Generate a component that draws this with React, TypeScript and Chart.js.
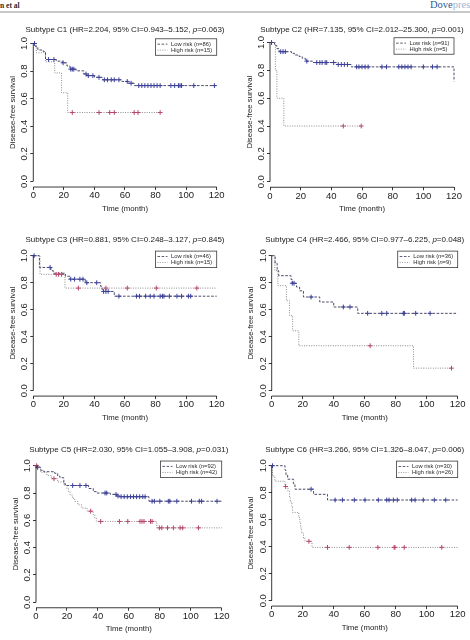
import React, { useEffect, useRef } from 'react';
import { Chart, registerables } from 'chart.js';

Chart.register(...registerables);

type Step = [number, number];

const FONT = "'Liberation Sans', Arial, Helvetica, sans-serif";
const SERIF = "'Liberation Serif', 'DejaVu Serif', serif";

// Cox model summary for each subtype
const SUBTYPES = ['C1', 'C2', 'C3', 'C4', 'C5', 'C6'];
const HR = [2.204, 7.135, 0.881, 2.466, 2.03, 3.266];
const CI_LOW = [0.943, 2.012, 0.248, 0.977, 1.055, 1.326];
const CI_HIGH = [5.152, 25.3, 3.127, 6.225, 3.908, 8.047];
const P_VALUE = [0.063, 0.001, 0.845, 0.048, 0.031, 0.006];
const N_LOW = [86, 91, 46, 36, 92, 30];
const N_HIGH = [15, 5, 15, 9, 42, 26];

const X_TICKS = [0, 20, 40, 60, 80, 100, 120];
const Y_TICKS = [0, 0.2, 0.4, 0.6, 0.8, 1.0];

// Kaplan-Meier steps: [month, survival after the event]
const C1_LOW: Step[] = [[0, 1], [1.5, 0.977], [3, 0.953], [6.5, 0.942], [8, 0.884], [15, 0.872], [19, 0.86], [22, 0.837], [24, 0.814], [28, 0.802], [33, 0.779], [35, 0.767], [40, 0.755], [45, 0.737], [58, 0.725], [62, 0.712], [66, 0.695], [120, 0.695]];
const C1_HIGH: Step[] = [[0, 1], [2, 0.933], [8, 0.867], [14, 0.787], [18.5, 0.643], [22.5, 0.5], [83, 0.5]];
const C1_LOW_CENSORED = [0.8, 10, 13.5, 19.5, 24.5, 25.5, 26.5, 34.5, 36, 39, 43, 46.5, 48.5, 51, 53, 56, 61.5, 64, 69, 71, 73, 75, 77, 79, 81, 83, 90, 92.5, 95, 96, 97, 105, 118.5];
const C1_HIGH_CENSORED = [25.5, 43, 50, 53, 66, 68.5, 83];

const C2_LOW: Step[] = [[0, 1], [3, 0.978], [4.5, 0.956], [6, 0.934], [14, 0.922], [16, 0.91], [19, 0.899], [21, 0.887], [23, 0.866], [28, 0.856], [43.5, 0.842], [53, 0.825], [120, 0.72]];
const C2_HIGH: Step[] = [[0, 1], [3.5, 0.8], [4.5, 0.6], [9, 0.4], [59.5, 0.4]];
const C2_LOW_CENSORED = [1, 7, 8.5, 10, 24, 30.5, 32.5, 34, 36, 37, 41.5, 44.5, 46.5, 48.5, 50.5, 56.5, 58, 60, 62, 64, 73, 76, 84, 86, 88, 90, 92, 100, 106, 109];
const C2_HIGH_CENSORED = [47.8, 59.5];

const C3_LOW: Step[] = [[0, 1], [4, 0.913], [11.5, 0.891], [13, 0.87], [21, 0.848], [24, 0.826], [34, 0.8], [44, 0.774], [45, 0.748], [46, 0.735], [53, 0.7], [120, 0.7]];
const C3_HIGH: Step[] = [[0, 1], [4.4, 0.862], [20.7, 0.76], [120, 0.76]];
const C3_LOW_CENSORED = [0.5, 11, 24.5, 27, 30.5, 32.5, 35, 41.5, 46, 47.5, 49, 56, 67.5, 69.5, 73.5, 76.5, 79, 83, 84.5, 85.5, 89, 94, 97, 101.5, 103];
const C3_HIGH_CENSORED = [15, 16.5, 18.5, 29.5, 47.5, 61.5, 80.5, 107];

const C4_LOW: Step[] = [[0, 1], [2.2, 0.944], [3.5, 0.889], [4.5, 0.852], [12.5, 0.824], [13.2, 0.796], [16, 0.768], [18, 0.74], [20.5, 0.694], [31, 0.657], [40, 0.62], [55.5, 0.573], [120, 0.573]];
const C4_HIGH: Step[] = [[0, 1], [2, 0.889], [4, 0.778], [9.5, 0.667], [11.5, 0.556], [13.5, 0.444], [17.5, 0.333], [91.5, 0.167], [116, 0.167]];
const C4_LOW_CENSORED = [13.3, 14.4, 25.4, 46.2, 50.5, 61.9, 71, 74.2, 84.9, 85.6, 92.9, 102.2];
const C4_HIGH_CENSORED = [63.5, 116];

const C5_LOW: Step[] = [[0, 1], [1, 0.989], [3, 0.967], [5, 0.956], [12, 0.945], [14, 0.923], [15.5, 0.912], [18, 0.868], [19, 0.855], [34, 0.833], [37, 0.81], [39, 0.8], [48, 0.79], [52, 0.778], [54, 0.773], [73, 0.74], [120, 0.74]];
const C5_HIGH: Step[] = [[0, 1], [0.5, 0.976], [3, 0.952], [7, 0.929], [10, 0.905], [14, 0.881], [18, 0.857], [20, 0.833], [21, 0.81], [22, 0.786], [23.5, 0.762], [25, 0.738], [27, 0.714], [29.5, 0.69], [33, 0.667], [37, 0.641], [38, 0.616], [39, 0.592], [78, 0.545], [120, 0.545]];
const C5_LOW_CENSORED = [1, 23.7, 28.4, 32.3, 44.6, 45.7, 51.7, 53, 55, 57, 59, 61, 63, 65, 67, 69, 70.5, 75, 76.5, 80, 85.5, 86.5, 91, 100.5, 105.5, 107, 117];
const C5_HIGH_CENSORED = [0.4, 11.6, 35.3, 41.8, 53.9, 59.3, 67.2, 68.5, 69.8, 74, 75, 79.7, 81.3, 85, 88.8, 93.1, 94.8, 105];

const C6_LOW: Step[] = [[0, 1], [8.6, 0.967], [9.2, 0.933], [10.3, 0.9], [14, 0.867], [15, 0.826], [27, 0.788], [36, 0.746], [120, 0.746]];
const C6_HIGH: Step[] = [[0, 1], [0.5, 0.923], [2, 0.885], [8.5, 0.846], [10.5, 0.808], [11.5, 0.769], [12, 0.731], [13, 0.692], [13.5, 0.654], [17.5, 0.615], [18.2, 0.577], [18.7, 0.538], [19.3, 0.5], [20.5, 0.462], [21.5, 0.44], [26, 0.395], [120, 0.395]];
const C6_LOW_CENSORED = [0.5, 25.4, 40.9, 45.6, 53.3, 60.2, 68.8, 74.2, 75.7, 78.5, 81, 90.3, 92.5, 97.8, 104.9, 112.3];
const C6_HIGH_CENSORED = [9, 24, 36, 50, 68.5, 79, 79.5, 85.5, 109.7];

const LOW_CURVES = [C1_LOW, C2_LOW, C3_LOW, C4_LOW, C5_LOW, C6_LOW];
const HIGH_CURVES = [C1_HIGH, C2_HIGH, C3_HIGH, C4_HIGH, C5_HIGH, C6_HIGH];
const LOW_CENSORED = [C1_LOW_CENSORED, C2_LOW_CENSORED, C3_LOW_CENSORED, C4_LOW_CENSORED, C5_LOW_CENSORED, C6_LOW_CENSORED];
const HIGH_CENSORED = [C1_HIGH_CENSORED, C2_HIGH_CENSORED, C3_HIGH_CENSORED, C4_HIGH_CENSORED, C5_HIGH_CENSORED, C6_HIGH_CENSORED];

// Page placement of each panel's plotting frame (x = column origin)
const FRAMES = [
  { x: 0, left: 33.3, right: 216.7, y1: 43.5, y0: 181.5, titleY: 29.5 },
  { x: 235, left: 270, right: 454, y1: 42.5, y0: 181.7, titleY: 29.7 },
  { x: 0, left: 33.3, right: 216.7, y1: 255.7, y0: 390.7, titleY: 239.5 },
  { x: 235, left: 271.7, right: 457.7, y1: 255.7, y0: 390.7, titleY: 240 },
  { x: 0, left: 36, right: 221.7, y1: 465.7, y0: 602.3, titleY: 450 },
  { x: 235, left: 271.7, right: 457.7, y1: 465.7, y0: 600.7, titleY: 449.5 },
];

const LOW_LINE = '#4b4b68';
const HIGH_LINE = '#8c8c8c';
const LOW_MARK = '#3b3f98';
const HIGH_MARK = '#b8476c';
const AXIS = '#222';
const LOW_DASH = [2.6, 1.6];
const HIGH_DASH = [1, 1.4];

function survivalAt(steps: Step[], t: number): number {
  let s = steps[0][1];
  for (const [ti, si] of steps) {
    if (ti <= t) s = si;
    else break;
  }
  return s;
}

function drawMixed(ctx: CanvasRenderingContext2D, parts: { text: string; italic: boolean }[], size: number, x: number, y: number, align: 'left' | 'center') {
  const widths = parts.map((p) => {
    ctx.font = `${p.italic ? 'italic ' : ''}${size}px ${FONT}`;
    return ctx.measureText(p.text).width;
  });
  const total = widths.reduce((a, b) => a + b, 0);
  let cx = align === 'center' ? x - total / 2 : x;
  ctx.textAlign = 'left';
  ctx.textBaseline = 'middle';
  parts.forEach((p, i) => {
    ctx.font = `${p.italic ? 'italic ' : ''}${size}px ${FONT}`;
    ctx.fillText(p.text, cx, y);
    cx += widths[i];
  });
  return total;
}

function measureMixed(ctx: CanvasRenderingContext2D, parts: { text: string; italic: boolean }[], size: number) {
  return parts.reduce((acc, p) => {
    ctx.font = `${p.italic ? 'italic ' : ''}${size}px ${FONT}`;
    return acc + ctx.measureText(p.text).width;
  }, 0);
}

function KMPanel({ idx }: { idx: number }) {
  const ref = useRef<HTMLCanvasElement>(null);
  const f = FRAMES[idx];
  const width = 235;
  const top = Math.floor(f.y1 - 40);
  const height = Math.ceil(f.y0 + 40) - top;

  useEffect(() => {
    if (!ref.current) return;
    const span = f.y0 - f.y1;
    const areaTop = f.y1 - 0.04 * span - top;
    const areaBottom = f.y0 + 0.04 * span - top;
    const yAxisWidth = f.left - f.x;
    const xAxisHeight = height - areaBottom;
    const padRight = f.x + width - f.right;
    const axisTitleSize = 7.8;
    const axisTitleHalf = (axisTitleSize * 1.2) / 2;

    const low = LOW_CURVES[idx];
    const high = HIGH_CURVES[idx];

    const titleParts = [
      { text: `Subtype ${SUBTYPES[idx]} (HR=${HR[idx].toFixed(3)}, 95% CI=${CI_LOW[idx].toFixed(3)}–${CI_HIGH[idx].toFixed(3)}, `, italic: false },
      { text: 'p', italic: true },
      { text: `=${P_VALUE[idx].toFixed(3)})`, italic: false },
    ];
    const legendEntries = [
      { name: 'Low risk', n: N_LOW[idx], color: LOW_LINE, dash: LOW_DASH },
      { name: 'High risk', n: N_HIGH[idx], color: HIGH_LINE, dash: HIGH_DASH },
    ];

    const decor = {
      id: 'kmDecor',
      afterDraw(chart: any) {
        const { ctx, chartArea, scales } = chart;
        const xs = scales.x;
        const ys = scales.y;
        ctx.save();
        // axis lines spanning the first to last tick
        ctx.strokeStyle = AXIS;
        ctx.lineWidth = 0.9;
        ctx.beginPath();
        ctx.moveTo(xs.getPixelForValue(X_TICKS[0]), chartArea.bottom);
        ctx.lineTo(xs.getPixelForValue(X_TICKS[X_TICKS.length - 1]), chartArea.bottom);
        ctx.moveTo(chartArea.left, ys.getPixelForValue(Y_TICKS[0]));
        ctx.lineTo(chartArea.left, ys.getPixelForValue(Y_TICKS[Y_TICKS.length - 1]));
        ctx.stroke();

        // panel title
        ctx.fillStyle = '#1a1a1a';
        drawMixed(ctx, titleParts, 8, (chartArea.left + chartArea.right) / 2, f.titleY - top, 'center');

        // legend box in the top-right corner
        const fs = 5.8;
        const rows = legendEntries.map((e) => [
          { text: `${e.name} (`, italic: false },
          { text: 'n', italic: true },
          { text: `=${e.n})`, italic: false },
        ]);
        const textW = Math.max(...rows.map((r) => measureMixed(ctx, r, fs)));
        const padL = 2, sample = 10, gap = 3.6, padR = 4.6;
        const w = padL + sample + gap + textW + padR;
        const h = 16.5;
        const bx = chartArea.right - w;
        const by = chartArea.top + 0.8;
        ctx.fillStyle = '#fff';
        ctx.fillRect(bx, by, w, h);
        ctx.strokeStyle = '#3a3a3a';
        ctx.lineWidth = 0.8;
        ctx.strokeRect(bx, by, w, h);
        legendEntries.forEach((e, i) => {
          const cy = by + 5.4 + i * 6;
          ctx.setLineDash(e.dash);
          ctx.strokeStyle = e.color;
          ctx.lineWidth = 0.9;
          ctx.beginPath();
          ctx.moveTo(bx + padL, cy);
          ctx.lineTo(bx + padL + sample, cy);
          ctx.stroke();
          ctx.setLineDash([]);
          ctx.fillStyle = '#2a2a2a';
          drawMixed(ctx, rows[i], fs, bx + padL + sample + gap, cy, 'left');
        });
        ctx.restore();
      },
    };

    const tickFont = { family: FONT, size: 9.5 };
    const chart = new Chart(ref.current, {
      type: 'line',
      data: {
        datasets: [
          {
            label: 'Low risk censored',
            data: LOW_CENSORED[idx].map((t) => ({ x: t, y: survivalAt(low, t) })),
            showLine: false,
            pointStyle: 'cross',
            pointRadius: 2.4,
            pointBorderWidth: 1,
            borderColor: LOW_MARK,
            pointBorderColor: LOW_MARK,
            clip: false,
          },
          {
            label: 'High risk censored',
            data: HIGH_CENSORED[idx].map((t) => ({ x: t, y: survivalAt(high, t) })),
            showLine: false,
            pointStyle: 'cross',
            pointRadius: 2.4,
            pointBorderWidth: 1,
            borderColor: HIGH_MARK,
            pointBorderColor: HIGH_MARK,
            clip: false,
          },
          {
            label: 'Low risk',
            data: low.map(([x, y]) => ({ x, y })),
            stepped: 'before',
            borderColor: LOW_LINE,
            borderWidth: 1,
            borderDash: LOW_DASH,
            pointRadius: 0,
            fill: false,
            clip: false,
          },
          {
            label: 'High risk',
            data: high.map(([x, y]) => ({ x, y })),
            stepped: 'before',
            borderColor: HIGH_LINE,
            borderWidth: 1,
            borderDash: HIGH_DASH,
            pointRadius: 0,
            fill: false,
            clip: false,
          },
        ],
      } as any,
      options: {
        responsive: false,
        animation: false,
        events: [],
        layout: { padding: { left: 0, top: areaTop, right: padRight, bottom: 0 } },
        plugins: {
          legend: { display: false },
          title: { display: false },
          tooltip: { enabled: false },
        },
        scales: {
          x: {
            type: 'linear',
            min: X_TICKS[0],
            max: X_TICKS[X_TICKS.length - 1],
            afterBuildTicks: (s: any) => {
              s.ticks = X_TICKS.map((v) => ({ value: v }));
            },
            afterFit: (s: any) => {
              s.height = xAxisHeight;
            },
            ticks: { font: tickFont, color: AXIS, padding: 0, maxRotation: 0, autoSkip: false },
            grid: { display: true, drawOnChartArea: false, drawTicks: true, tickLength: 3, color: AXIS, lineWidth: 0.9 },
            border: { display: false },
            title: {
              display: true,
              text: 'Time (month)',
              color: AXIS,
              font: { family: FONT, size: axisTitleSize },
              padding: { top: 0, bottom: height - (f.y0 + 27 - top) - axisTitleHalf },
            },
          },
          y: {
            type: 'linear',
            min: -0.04,
            max: 1.04,
            afterBuildTicks: (s: any) => {
              s.ticks = Y_TICKS.map((v) => ({ value: v }));
            },
            afterFit: (s: any) => {
              s.width = yAxisWidth;
            },
            ticks: {
              font: tickFont,
              color: AXIS,
              padding: -1.1,
              minRotation: 90,
              maxRotation: 90,
              crossAlign: 'center',
              autoSkip: false,
              callback: (v: any) => Number(v).toFixed(1),
            },
            grid: { display: true, drawOnChartArea: false, drawTicks: true, tickLength: 3, color: AXIS, lineWidth: 0.9 },
            border: { display: false },
            title: {
              display: true,
              text: 'Disease-free survival',
              color: AXIS,
              font: { family: FONT, size: axisTitleSize },
              padding: { top: f.left - f.x - 20.5 - axisTitleHalf, bottom: 0 },
            },
          },
        },
      } as any,
      plugins: [decor],
    });
    return () => chart.destroy();
  }, []);

  return (
    <canvas
      ref={ref}
      width={width}
      height={height}
      style={{ position: 'absolute', left: f.x, top, width, height }}
    />
  );
}

export default function App() {
  return (
    <div
      style={{
        position: 'absolute',
        left: 0,
        top: 0,
        width: 470,
        height: 640,
        overflow: 'hidden',
        background: '#fff',
      }}
    >
      <div
        style={{
          position: 'absolute',
          left: 0,
          top: 0,
          font: `bold 7.5px ${SERIF}`,
          lineHeight: '11px',
          color: '#2a2a2a',
          whiteSpace: 'nowrap',
        }}
      >
        n et al
      </div>
      <div style={{ position: 'absolute', left: 0, top: 11, width: 470, height: 1.8, background: '#c8c8c8' }} />
      <div
        style={{
          position: 'absolute',
          left: 430,
          top: -1,
          font: `10.5px ${SERIF}`,
          lineHeight: '12px',
          whiteSpace: 'nowrap',
        }}
      >
        <span style={{ color: '#2d5c98' }}>Dove</span>
        <span style={{ color: '#9fb5cf' }}>press</span>
      </div>
      {FRAMES.map((_, i) => (
        <KMPanel key={i} idx={i} />
      ))}
    </div>
  );
}
